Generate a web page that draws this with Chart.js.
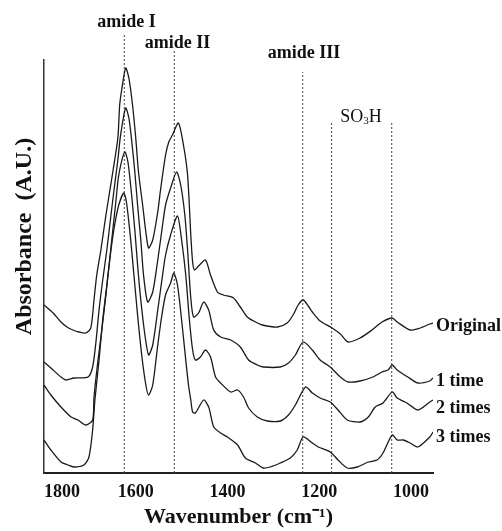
<!DOCTYPE html>
<html lang="en">
<head>
<meta charset="UTF-8">
<title>FTIR spectra</title>
<script src="https://cdn.jsdelivr.net/npm/chart.js@4.4.1/dist/chart.umd.min.js"></script>
<style>
  html, body { margin: 0; padding: 0; background: #fff; }
</style>
</head>
<body>
<canvas id="myChart" width="502" height="531"></canvas>
<script>
// spectra: [wavenumber (cm-1), absorbance incl. stacking offset]
const original = [[1800,1.68],[1780,1.60],[1763,1.51],[1750,1.46],[1737,1.43],[1724,1.41],[1709,1.40],[1698,1.45],[1691,1.73],[1685,1.98],[1676,2.23],[1665,2.58],[1650,3.01],[1639,3.35],[1635,3.68],[1630,3.85],[1622,4.05],[1615,3.95],[1607,3.68],[1600,3.35],[1594,3.01],[1585,2.68],[1578,2.41],[1572,2.25],[1563,2.33],[1552,2.61],[1546,2.83],[1535,3.18],[1528,3.31],[1520,3.38],[1507,3.50],[1496,3.28],[1487,2.98],[1480,2.38],[1476,2.11],[1472,2.03],[1463,2.07],[1448,2.13],[1437,1.98],[1422,1.81],[1409,1.78],[1387,1.75],[1372,1.66],[1357,1.56],[1339,1.51],[1324,1.48],[1291,1.46],[1270,1.50],[1257,1.58],[1246,1.68],[1235,1.73],[1224,1.67],[1215,1.61],[1198,1.52],[1172,1.45],[1154,1.39],[1137,1.31],[1111,1.35],[1085,1.43],[1063,1.51],[1041,1.55],[1030,1.51],[1002,1.43],[980,1.45],[959,1.49],[952,1.50]]
const time1 = [[1800,1.11],[1785,1.05],[1763,0.96],[1752,0.93],[1735,0.95],[1704,0.96],[1694,1.06],[1687,1.30],[1680,1.63],[1672,1.93],[1663,2.23],[1654,2.58],[1646,2.88],[1639,3.13],[1633,3.38],[1622,3.65],[1615,3.55],[1609,3.33],[1602,3.01],[1596,2.68],[1589,2.33],[1583,1.98],[1574,1.71],[1563,1.81],[1552,2.13],[1543,2.43],[1535,2.68],[1524,2.85],[1511,3.01],[1502,2.88],[1493,2.58],[1487,2.23],[1480,1.75],[1474,1.56],[1463,1.60],[1452,1.71],[1441,1.63],[1430,1.43],[1415,1.36],[1393,1.33],[1372,1.26],[1354,1.13],[1335,1.08],[1322,1.06],[1285,1.06],[1267,1.10],[1252,1.18],[1235,1.31],[1215,1.23],[1198,1.13],[1176,1.06],[1154,0.96],[1137,0.91],[1111,0.92],[1083,0.96],[1063,1.01],[1050,1.03],[1041,1.08],[1030,1.03],[1007,0.96],[985,0.90],[959,0.92],[952,0.95]]
const times2 = [[1800,0.88],[1785,0.78],[1763,0.66],[1741,0.56],[1726,0.53],[1709,0.48],[1694,0.53],[1691,0.76],[1683,1.10],[1674,1.43],[1665,1.78],[1657,2.13],[1650,2.43],[1643,2.73],[1637,2.98],[1624,3.21],[1617,3.11],[1609,2.78],[1602,2.43],[1596,2.08],[1589,1.73],[1580,1.38],[1572,1.18],[1563,1.28],[1552,1.63],[1543,1.93],[1535,2.18],[1524,2.38],[1509,2.57],[1500,2.33],[1491,1.98],[1483,1.53],[1476,1.23],[1470,1.13],[1459,1.16],[1448,1.23],[1437,1.16],[1426,0.96],[1415,0.90],[1393,0.81],[1378,0.83],[1365,0.76],[1354,0.65],[1335,0.56],[1313,0.52],[1285,0.52],[1267,0.58],[1252,0.68],[1230,0.86],[1215,0.80],[1198,0.75],[1176,0.71],[1159,0.63],[1139,0.53],[1111,0.51],[1093,0.56],[1078,0.66],[1061,0.70],[1041,0.81],[1030,0.75],[1009,0.70],[985,0.63],[959,0.71],[952,0.73]]
const times3 = [[1800,0.33],[1785,0.23],[1763,0.11],[1748,0.08],[1735,0.06],[1713,0.08],[1702,0.16],[1694,0.43],[1689,0.73],[1680,1.13],[1672,1.53],[1663,1.88],[1654,2.23],[1646,2.48],[1637,2.68],[1626,2.80],[1620,2.70],[1611,2.33],[1604,1.98],[1596,1.58],[1587,1.18],[1578,0.88],[1572,0.78],[1563,0.88],[1552,1.28],[1543,1.58],[1535,1.78],[1524,1.90],[1517,2.00],[1509,1.88],[1500,1.53],[1491,1.13],[1485,0.88],[1480,0.73],[1476,0.61],[1470,0.60],[1452,0.73],[1441,0.66],[1430,0.46],[1415,0.40],[1400,0.36],[1378,0.28],[1361,0.15],[1339,0.10],[1322,0.05],[1307,0.06],[1285,0.10],[1263,0.15],[1248,0.23],[1235,0.36],[1215,0.30],[1202,0.26],[1176,0.21],[1159,0.13],[1139,0.05],[1117,0.06],[1093,0.11],[1074,0.13],[1061,0.20],[1041,0.38],[1030,0.33],[1017,0.33],[1002,0.30],[985,0.26],[959,0.36],[952,0.41]]

const seriesNames = ['Original', '1 time', '2 times', '3 times']
const seriesNameAbs = [1.47, 0.92, 0.65, 0.36]

// dashed band markers (wavenumber, height of the dashed line)
const markerWn = [1625, 1516, 1236, 1173, 1042]
const markerTop = [4.40, 4.23, 4.01, 3.51, 3.51]

const peakNames = ['amide I', 'amide II', 'amide III']
const peakNameAt = [[1620, 4.51], [1509, 4.30], [1233, 4.20]]
const so3hAt = [1109, 3.56]

const tickValues = [1000, 1200, 1400, 1600, 1800]

const serif = '"Liberation Serif", "Times New Roman", serif'

const annotationText = {
    id: 'annotationText',
    afterDraw(chart) {
        const { ctx, chartArea, scales: { x, y } } = chart
        ctx.save()
        ctx.fillStyle = '#111'
        ctx.textBaseline = 'middle'

        ctx.textAlign = 'center'
        ctx.font = 'bold 18px ' + serif
        peakNames.forEach((name, i) => {
            ctx.fillText(name, x.getPixelForValue(peakNameAt[i][0]), y.getPixelForValue(peakNameAt[i][1]))
        })

        // SO3H with subscript 3
        ctx.textAlign = 'left'
        ctx.font = '18px ' + serif
        const wSO = ctx.measureText('SO').width
        const wH = ctx.measureText('H').width
        ctx.font = '11px ' + serif
        const w3 = ctx.measureText('3').width
        let sx = x.getPixelForValue(so3hAt[0]) - (wSO + w3 + wH) / 2
        const sy = y.getPixelForValue(so3hAt[1])
        ctx.font = '18px ' + serif
        ctx.fillText('SO', sx, sy)
        sx += wSO
        ctx.font = '11px ' + serif
        ctx.fillText('3', sx, sy + 4)
        sx += w3
        ctx.font = '18px ' + serif
        ctx.fillText('H', sx, sy)

        // series names at the right end of each trace
        ctx.font = 'bold 18px ' + serif
        seriesNames.forEach((name, i) => {
            ctx.fillText(name, chartArea.right + 3, y.getPixelForValue(seriesNameAbs[i]))
        })
        ctx.restore()
    }
}

const spectra = [original, time1, times2, times3].map((s, i) => ({
    label: seriesNames[i],
    data: s.map(p => ({ x: p[0], y: p[1] })),
    borderColor: '#1a1a1a',
    borderWidth: 1.3,
    tension: 0.25,
    pointRadius: 0
}))

const markers = markerWn.map((w, i) => ({
    label: 'marker ' + w,
    data: [{ x: w, y: 0 }, { x: w, y: markerTop[i] }],
    borderColor: '#444',
    borderWidth: 1,
    borderDash: [2, 2],
    pointRadius: 0,
    clip: false
}))

const ctx = document.getElementById('myChart').getContext('2d')
new Chart(ctx, {
    type: 'line',
    data: { datasets: spectra.concat(markers) },
    options: {
        responsive: false,
        animation: false,
        devicePixelRatio: 1,
        layout: { padding: { top: 60, right: 69, left: 0, bottom: 0 } },
        plugins: { legend: { display: false }, tooltip: { enabled: false } },
        scales: {
            x: {
                type: 'linear',
                reverse: true,
                min: 952,
                max: 1800,
                afterFit: s => { s.height = 58 },
                afterBuildTicks: s => {
                    s.ticks = [{ value: s.min }].concat(tickValues.map(v => ({ value: v })))
                },
                grid: { display: false, drawTicks: false },
                border: { display: true, color: '#222', width: 2 },
                ticks: {
                    align: 'inner',
                    autoSkip: false,
                    maxRotation: 0,
                    padding: 9,
                    color: '#111',
                    font: { family: serif, size: 18, weight: 'bold' },
                    callback: v => tickValues.includes(v) ? String(v) : ''
                },
                title: {
                    display: true,
                    text: 'Wavenumber (cm⁻¹)',
                    color: '#111',
                    font: { family: serif, size: 22, weight: 'bold' },
                    padding: { top: 0, bottom: 0 }
                }
            },
            y: {
                min: 0,
                max: 4.13,
                afterFit: s => { s.width = 44 },
                grid: { display: false, drawTicks: false },
                ticks: { display: false },
                border: { display: true, color: '#333', width: 1.5 },
                title: {
                    display: true,
                    text: ' '.repeat(10) + 'Absorbance  (A.U.)',
                    color: '#111',
                    font: { family: serif, size: 24, weight: 'bold' },
                    padding: { top: 10, bottom: 0 }
                }
            }
        }
    },
    plugins: [annotationText]
})
</script>
</body>
</html>
